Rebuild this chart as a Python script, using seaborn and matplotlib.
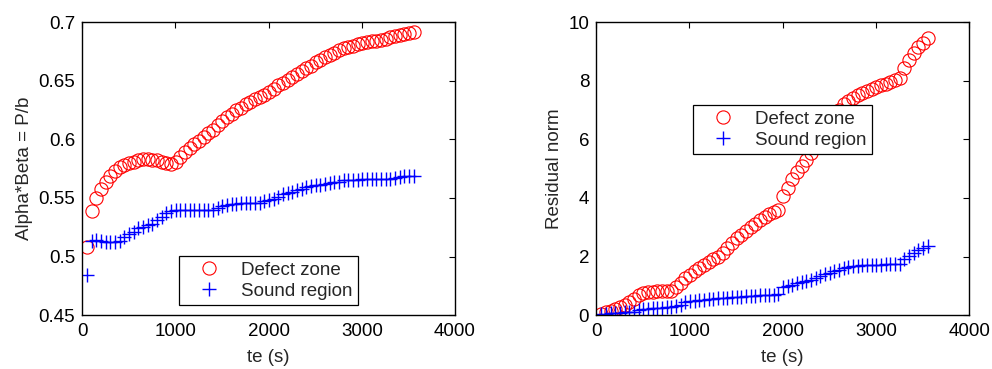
import numpy as np
import matplotlib
matplotlib.use('Agg')
import matplotlib.pyplot as plt
import seaborn as sb

# time samples (s)
te = np.arange(55, 3600, 50)

# left panel: Alpha*Beta = P/b
ab_defect = [0.508, 0.539, 0.550, 0.558, 0.564, 0.569, 0.573, 0.576, 0.578, 0.580,
             0.581, 0.582, 0.583, 0.583, 0.582, 0.582, 0.581, 0.580, 0.579, 0.581,
             0.585, 0.589, 0.593, 0.596, 0.599, 0.602, 0.605, 0.608, 0.612, 0.616,
             0.619, 0.622, 0.625, 0.627, 0.630, 0.632, 0.634, 0.636, 0.638, 0.640,
             0.643, 0.646, 0.648, 0.651, 0.653, 0.656, 0.658, 0.661, 0.663, 0.666,
             0.668, 0.670, 0.672, 0.674, 0.676, 0.678, 0.679, 0.680, 0.681, 0.682,
             0.683, 0.684, 0.684, 0.685, 0.686, 0.687, 0.688, 0.689, 0.690, 0.691,
             0.692]
ab_sound = [0.484, 0.513, 0.514, 0.513, 0.512, 0.512, 0.512, 0.513, 0.517, 0.519,
            0.521, 0.524, 0.525, 0.527, 0.528, 0.531, 0.534, 0.537, 0.539, 0.540,
            0.540, 0.540, 0.540, 0.540, 0.540, 0.540, 0.540, 0.540, 0.541, 0.543,
            0.544, 0.545, 0.545, 0.546, 0.546, 0.546, 0.546, 0.546, 0.547, 0.548,
            0.549, 0.551, 0.553, 0.554, 0.555, 0.557, 0.558, 0.559, 0.560, 0.561,
            0.561, 0.562, 0.563, 0.564, 0.564, 0.565, 0.565, 0.565, 0.565, 0.566,
            0.566, 0.566, 0.566, 0.566, 0.566, 0.566, 0.567, 0.568, 0.569, 0.569,
            0.569]

# right panel: residual norm
res_defect = [0.05, 0.10, 0.15, 0.22, 0.28, 0.35, 0.45, 0.55, 0.68, 0.75,
              0.78, 0.80, 0.81, 0.82, 0.82, 0.84, 0.95, 1.10, 1.28, 1.38,
              1.50, 1.62, 1.70, 1.80, 1.90, 2.00, 2.12, 2.28, 2.45, 2.62,
              2.75, 2.88, 3.00, 3.12, 3.25, 3.35, 3.45, 3.52, 3.60, 4.05,
              4.35, 4.65, 4.90, 5.10, 5.30, 5.55, 5.80, 6.05, 6.30, 6.55,
              6.80, 7.00, 7.20, 7.30, 7.40, 7.50, 7.58, 7.65, 7.72, 7.80,
              7.85, 7.90, 7.96, 8.02, 8.10, 8.45, 8.70, 8.95, 9.15, 9.30,
              9.45]
res_sound = [0.03, 0.05, 0.06, 0.07, 0.08, 0.09, 0.10, 0.12, 0.17, 0.20,
             0.22, 0.23, 0.25, 0.26, 0.27, 0.28, 0.30, 0.33, 0.45, 0.47,
             0.49, 0.50, 0.52, 0.55, 0.56, 0.57, 0.58, 0.59, 0.61, 0.62,
             0.63, 0.64, 0.65, 0.66, 0.67, 0.68, 0.69, 0.70, 0.72, 0.95,
             1.00, 1.03, 1.08, 1.12, 1.16, 1.20, 1.27, 1.33, 1.40, 1.45,
             1.50, 1.55, 1.60, 1.63, 1.66, 1.68, 1.70, 1.71, 1.72, 1.72,
             1.72, 1.73, 1.73, 1.73, 1.74, 1.90, 2.02, 2.12, 2.22, 2.30,
             2.35]

sb.set_style('white')
plt.rcParams['font.family'] = ['Liberation Sans', 'DejaVu Sans']
FS = 13.5

fig = plt.figure(figsize=(9.92, 3.69), dpi=100)
ax1 = fig.add_axes([0.0827, 0.146, 0.376, 0.794])
ax2 = fig.add_axes([0.601, 0.146, 0.376, 0.794])


def panel(ax, yd, ys, ylabel, ylim, yticks, legpos):
    sb.lineplot(x=te, y=yd, ax=ax, linestyle='', marker='o', markersize=9.5,
                markerfacecolor='none', markeredgecolor='red', markeredgewidth=0.8,
                color='red', label='Defect zone')
    sb.lineplot(x=te, y=ys, ax=ax, linestyle='', marker='+', markersize=10.5,
                markeredgecolor='blue', markeredgewidth=1.0, color='blue',
                label='Sound region')
    ax.set_xlim(0, 4000)
    ax.set_ylim(*ylim)
    ax.set_xticks([0, 1000, 2000, 3000, 4000])
    ax.set_yticks(yticks)
    ax.set_yticklabels([f'{v:g}' for v in yticks])
    ax.set_xlabel('te (s)', fontsize=FS, labelpad=6)
    ax.set_ylabel(ylabel, fontsize=FS, labelpad=4)
    ax.tick_params(direction='in', top=True, right=True, length=4, width=0.8,
                   labelsize=FS, colors='black')
    ax.tick_params(axis='x', pad=6)
    ax.tick_params(axis='y', pad=5)
    for s in ax.spines.values():
        s.set_color('black')
        s.set_linewidth(1.0)
    leg = ax.legend(loc=legpos[0], bbox_to_anchor=legpos[1], fontsize=FS,
                    fancybox=False, framealpha=1, edgecolor='black',
                    borderpad=0.3, borderaxespad=0, handletextpad=0.4,
                    labelspacing=0.2, handlelength=2.6)
    leg.get_frame().set_linewidth(0.9)
    leg.set_zorder(10)


panel(ax1, ab_defect, ab_sound, 'Alpha*Beta = P/b', (0.45, 0.7),
      [0.45, 0.5, 0.55, 0.6, 0.65, 0.7], ('lower center', (0.5, 0.034)))
panel(ax2, res_defect, res_sound, 'Residual norm', (0, 10),
      [0, 2, 4, 6, 8, 10], ('upper center', (0.5, 0.717)))

fig.savefig('out.png', dpi=100)
